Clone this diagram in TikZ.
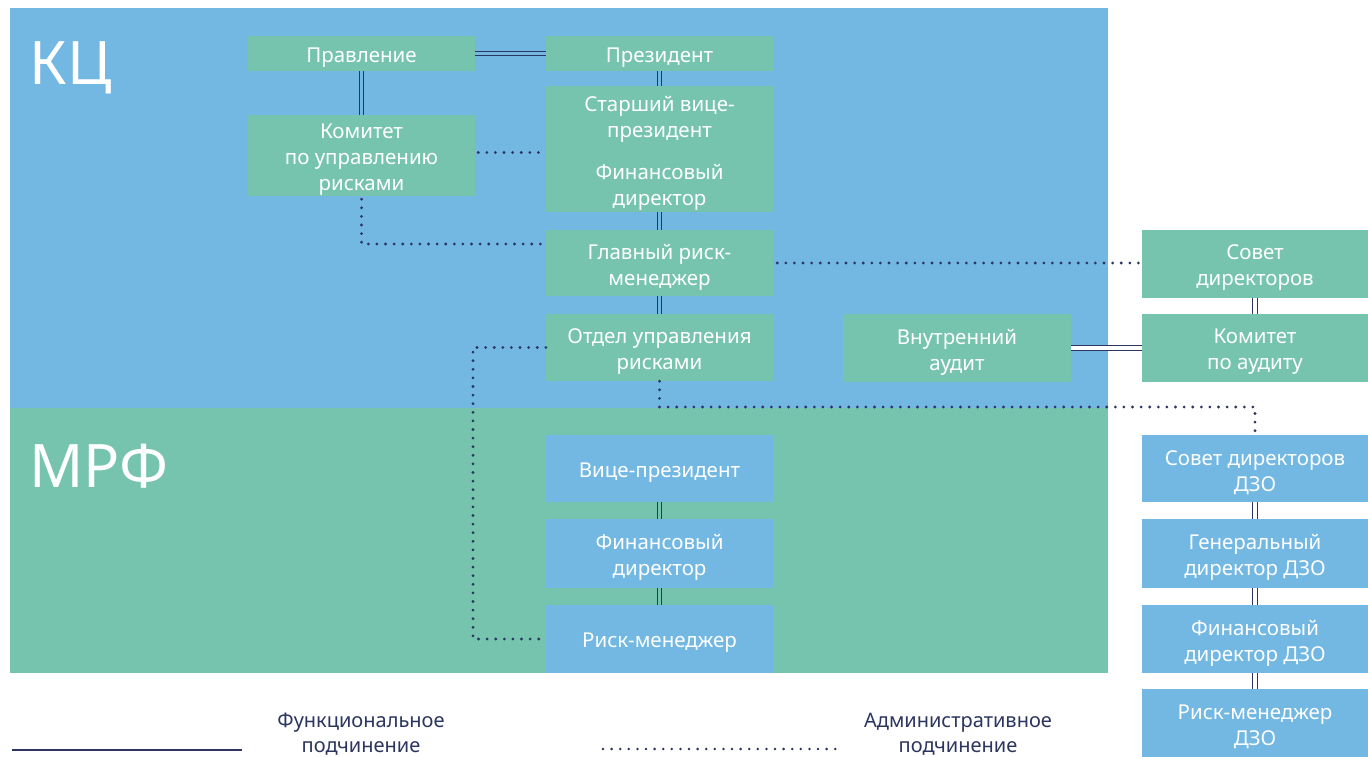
\documentclass[tikz,border=0pt]{standalone}
\usepackage{fontspec}
\setmainfont{Noto Sans}
\usetikzlibrary{calc}
\definecolor{kcblue}{HTML}{72B8E3}
\definecolor{mgreen}{HTML}{76C4AE}
\definecolor{navy}{HTML}{2B3560}
\tikzset{
  box/.style={inner sep=0pt},
  gbox/.style={box, fill=mgreen},
  bbox/.style={box, fill=kcblue},
  boxtext/.style={inner sep=0pt, text=white, align=center, yshift=-4pt, font=\fontsize{20.5}{26}\selectfont},
  dbl/.style={draw=navy, line width=1.1pt, double distance=3.6pt},
  dotline/.style={draw=navy, line width=3.1pt, line cap=round, dash pattern=on 0pt off 8.6pt},
  legtext/.style={text=navy, align=center, font=\fontsize{20}{25}\selectfont},
  region/.style={text=white, font=\fontsize{60}{66}\selectfont, anchor=west}
}
\begin{document}
\begin{tikzpicture}[x=1pt,y=-1pt]
\useasboundingbox (0,0) rectangle (1368,757);
\fill[white] (0,0) rectangle (1368,757);
% regions
\fill[kcblue] (10,8) rectangle (1108,408);
\fill[mgreen] (10,408) rectangle (1108,673);
\node[region] (kc) at (26,68) {КЦ};
\node[region] (mrf) at (26,466) {МРФ};
% KC nodes
\node[gbox, minimum width=227pt, minimum height=35pt, label={[boxtext]center:Правление}] (prav) at (361.5,53.5) {};
\node[gbox, minimum width=227pt, minimum height=35pt, label={[boxtext]center:Президент}] (pres) at (659.5,53.5) {};
\node[gbox, minimum width=227pt, minimum height=126pt, label={[boxtext]center:{Старший вице-\\президент\\[16pt]Финансовый\\директор}}] (svp) at (659.5,149) {};
\node[gbox, minimum width=227pt, minimum height=81pt, label={[boxtext]center:{Комитет\\по управлению\\рисками}}] (kom) at (361.5,155.5) {};
\node[gbox, minimum width=227pt, minimum height=66pt, label={[boxtext]center:{Главный риск-\\менеджер}}] (glav) at (659.5,263) {};
\node[gbox, minimum width=227pt, minimum height=67pt, label={[boxtext]center:{Отдел управления\\рисками}}] (otdel) at (659.5,347.5) {};
\node[gbox, minimum width=228pt, minimum height=68pt, label={[boxtext]center:{Внутренний\\аудит}}] (audit) at (957,348) {};
\node[gbox, minimum width=226pt, minimum height=68pt, label={[boxtext]center:{Совет\\директоров}}] (sovet) at (1255,264) {};
\node[gbox, minimum width=226pt, minimum height=68pt, label={[boxtext]center:{Комитет\\по аудиту}}] (kaud) at (1255,348) {};
% MRF nodes
\node[bbox, minimum width=227pt, minimum height=67pt, label={[boxtext]center:Вице-президент}] (vp) at (659.5,468.5) {};
\node[bbox, minimum width=227pt, minimum height=69pt, label={[boxtext]center:{Финансовый\\директор}}] (fd) at (659.5,553.5) {};
\node[bbox, minimum width=227pt, minimum height=68pt, label={[boxtext]center:Риск-менеджер}] (rm) at (659.5,639) {};
% DZO nodes
\node[bbox, minimum width=226pt, minimum height=67pt, label={[boxtext]center:{Совет директоров\\ДЗО}}] (sdzo) at (1255,468.5) {};
\node[bbox, minimum width=226pt, minimum height=69pt, label={[boxtext]center:{Генеральный\\директор ДЗО}}] (gdzo) at (1255,553.5) {};
\node[bbox, minimum width=226pt, minimum height=68pt, label={[boxtext]center:{Финансовый\\директор ДЗО}}] (fdzo) at (1255,639) {};
\node[bbox, minimum width=226pt, minimum height=68pt, label={[boxtext]center:{Риск-менеджер\\ДЗО}}] (rdzo) at (1255,723) {};
% functional (double) links
\draw[dbl, double=kcblue] (prav.east) -- (pres.west);
\draw[dbl, double=kcblue] (prav.south) -- (kom.north);
\draw[dbl, double=kcblue] (pres.south) -- (svp.north);
\draw[dbl, double=kcblue] (svp.south) -- (glav.north);
\draw[dbl, double=kcblue] (glav.south) -- (otdel.north);
\draw[dbl, double=white] (audit.east) -- (kaud.west);
\draw[dbl, double=white] (sovet.south) -- (kaud.north);
\draw[dbl, double=mgreen] (vp.south) -- (fd.north);
\draw[dbl, double=mgreen] (fd.south) -- (rm.north);
\draw[dbl, double=white] (sdzo.south) -- (gdzo.north);
\draw[dbl, double=white] (gdzo.south) -- (fdzo.north);
\draw[dbl, double=white] (fdzo.south) -- (rdzo.north);
% administrative (dotted) links
\coordinate (c1) at (473,0);
\coordinate (c2) at (0,407);
\draw[dotline] ([xshift=3pt,yshift=3pt]kom.east) -- ([yshift=3pt]kom.east -| svp.west);
\draw[dotline] ([yshift=-3pt]kom.south) |- ([yshift=19pt]glav.west);
\draw[dotline] ([xshift=4pt]glav.east) -- (glav.east -| sovet.west);
\draw[dotline] (otdel.west) -- (otdel.west -| c1) |- (rm.west);
\draw[dotline] (otdel.south) -- (otdel.south |- c2) -| (sdzo.north);
% legend
\coordinate (l1) at (12,750);
\coordinate (l2) at (242,750);
\coordinate (l3) at (603,749);
\coordinate (l4) at (840,749);
\draw[navy, line width=1.2pt] (l1) -- (l2);
\draw[dotline, line width=2.8pt] (l3) -- (l4);
\node[legtext] (lt1) at (361,734) {Функциональное\\подчинение};
\node[legtext] (lt2) at (958,734) {Административное\\подчинение};
\end{tikzpicture}
\end{document}
